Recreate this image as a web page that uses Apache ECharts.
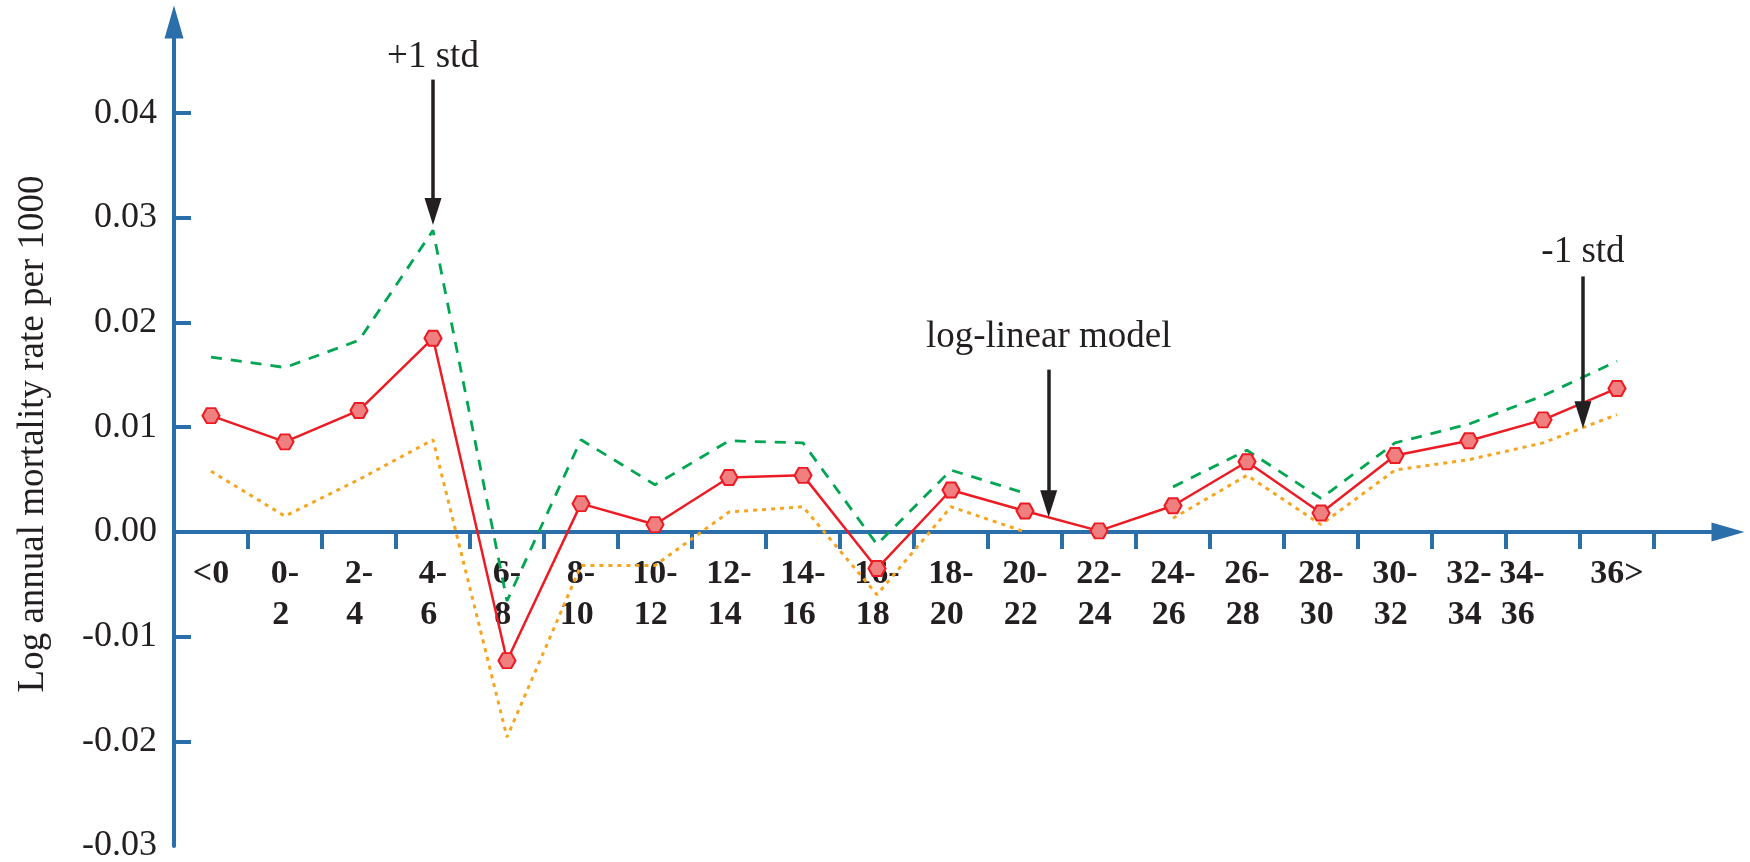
<!DOCTYPE html>
<html>
<head>
<meta charset="utf-8">
<script src="https://cdn.jsdelivr.net/npm/echarts@6/dist/echarts.min.js"></script>
<style>
  html, body { margin: 0; padding: 0; background: #ffffff; }
  #chart { width: 1750px; height: 862px; }
</style>
</head>
<body>
<div id="chart"></div>
<script>
// Age bands (years)
const categories = ['<0', '0-2', '2-4', '4-6', '6-8', '8-10', '10-12', '12-14', '14-16', '16-18',
  '18-20', '20-22', '22-24', '24-26', '26-28', '28-30', '30-32', '32-34', '34-36', '36>'];

// Log-linear model estimate
const modelRate = [0.0111, 0.0086, 0.0116, 0.0185, -0.0123, 0.0027, 0.0007, 0.0052, 0.0054, -0.0035,
  0.0040, 0.0020, 0.0001, 0.0025, 0.0067, 0.0018, 0.0073, 0.0087, 0.0107, 0.0137];

// Model + 1 standard deviation (no estimate for 22-24)
const upperStd = [0.0167, 0.0157, 0.0183, 0.0288, -0.0066, 0.0088, 0.0045, 0.0087, 0.0085, -0.0012,
  0.0059, 0.0037, null, 0.0043, 0.0078, 0.0032, 0.0085, 0.0103, 0.0130, 0.0163];

// Model - 1 standard deviation (no estimate for 22-24)
const lowerStd = [0.0058, 0.0015, 0.0050, 0.0088, -0.0196, -0.0032, -0.0032, 0.0019, 0.0024, -0.0060,
  0.0024, 0.0000, null, 0.0013, 0.0054, 0.0007, 0.0059, 0.0069, 0.0085, 0.0112];

// Y-axis tick labels and tick marks
const yLabelValues = [-0.03, -0.02, -0.01, 0, 0.01, 0.02, 0.03, 0.04];
const yTickValues = [-0.02, -0.01, 0, 0.01, 0.02, 0.03, 0.04];

// Callout arrows: x in band units, arrow from/to in rate units
const callouts = [
  { text: '+1 std', x: 3.5, from: 0.0432, to: 0.0306, gap: 4 },
  { text: 'log-linear model', x: 11.82, from: 0.0155, to: 0.0027, gap: 14 },
  { text: '-1 std', x: 19.04, from: 0.0244, to: 0.0112, gap: 6 }
];

const AXIS_BLUE = '#2a6eaa';
const INK = '#231f20';
const SERIF = '"Liberation Serif", "DejaVu Serif", "Times New Roman", serif';

const Y_MIN = -0.03;
const Y_MAX = 0.0487;
const GRID = { left: 174, right: 22, top: 22, bottom: 16 };
const CHART_H = 862;

// Each band occupies one unit on the x scale; points sit in the middle of the band
const bandEdges = categories.map((_, i) => i + 1);
const toPairs = (vals) => vals.map((v, i) => [i + 0.5, v]);

// Band-name row: one slot per band plus an empty slot under the arrow head.
// The 34-36 name is set a little to the left of its band.
const labelSlots = categories.map((name) =>
  name === '34-36' ? { value: name, textStyle: { padding: [0, 42, 0, 0] } } : name
).concat(['']);

// "a-b" is written on two lines; the trailing space keeps the lower
// line flush with the upper one when both are centred
function bandLabel(name) {
  const m = name.match(/^(\d+)-(\d+)$/);
  return m ? m[1] + '-\n' + m[2] + ' ' : name;
}

// The band-name row sits on the zero line of the rate axis
const plotH = CHART_H - GRID.top - GRID.bottom;
const zeroOffset = -plotH * (0 - Y_MIN) / (Y_MAX - Y_MIN);

const chart = echarts.init(document.getElementById('chart'), null, { renderer: 'canvas' });

chart.setOption({
  animation: false,
  backgroundColor: '#ffffff',
  grid: Object.assign({ containLabel: false, outerBoundsMode: 'none' }, GRID),
  xAxis: [
    {
      type: 'value',
      min: 0,
      max: 21,
      splitLine: { show: false },
      axisLine: {
        show: true,
        onZero: true,
        symbol: ['none', 'triangle'],
        symbolSize: [19, 33],
        lineStyle: { color: AXIS_BLUE, width: 4 }
      },
      axisTick: {
        show: true,
        inside: false,
        length: 17,
        customValues: bandEdges,
        lineStyle: { color: AXIS_BLUE, width: 4 }
      },
      axisLabel: { show: false }
    },
    {
      type: 'category',
      data: labelSlots,
      position: 'bottom',
      offset: zeroOffset,
      boundaryGap: true,
      axisLine: { show: false, onZero: false },
      axisTick: { show: false },
      splitLine: { show: false },
      axisLabel: {
        show: true,
        interval: 0,
        hideOverlap: false,
        margin: 22,
        formatter: bandLabel,
        fontFamily: SERIF,
        fontWeight: 'bold',
        fontSize: 34,
        lineHeight: 41,
        color: INK
      }
    }
  ],
  yAxis: {
    type: 'value',
    min: Y_MIN,
    max: Y_MAX,
    name: 'Log annual mortality rate per 1000',
    nameLocation: 'middle',
    nameGap: 122,
    nameTextStyle: { fontFamily: SERIF, fontSize: 37, color: INK },
    splitLine: { show: false },
    axisLine: {
      show: true,
      onZero: false,
      symbol: ['none', 'triangle'],
      symbolSize: [19, 33],
      lineStyle: { color: AXIS_BLUE, width: 4 }
    },
    axisTick: {
      show: true,
      inside: true,
      length: 17,
      customValues: yTickValues,
      lineStyle: { color: AXIS_BLUE, width: 4 }
    },
    axisLabel: {
      show: true,
      margin: 17,
      customValues: yLabelValues,
      formatter: (v) => v.toFixed(2),
      fontFamily: SERIF,
      fontSize: 36,
      color: INK
    }
  },
  series: [
    {
      name: '+1 std',
      type: 'line',
      xAxisIndex: 0,
      data: toPairs(upperStd),
      showSymbol: false,
      connectNulls: false,
      z: 2,
      lineStyle: { color: '#00a651', width: 2.8, type: [11, 9] }
    },
    {
      name: '-1 std',
      type: 'line',
      xAxisIndex: 0,
      data: toPairs(lowerStd),
      showSymbol: false,
      connectNulls: false,
      z: 2,
      lineStyle: { color: '#f7a51e', width: 3, type: [4, 5] }
    },
    {
      name: 'log-linear model',
      type: 'line',
      xAxisIndex: 0,
      data: toPairs(modelRate),
      symbol: 'path://M0,4 L2.3,0 L6.9,0 L9.2,4 L6.9,8 L2.3,8 Z',
      symbolSize: [17, 15],
      z: 4,
      lineStyle: { color: '#ed1c24', width: 2.5 },
      itemStyle: { color: '#f08080', borderColor: '#ed1c24', borderWidth: 2 }
    },
    {
      name: 'callouts',
      type: 'line',
      xAxisIndex: 0,
      data: [],
      z: 5,
      markLine: {
        silent: true,
        animation: false,
        symbol: ['none', 'triangle'],
        symbolSize: [1, 22],
        lineStyle: { color: INK, width: 3.5, type: 'solid' },
        data: callouts.map((c) => [
          {
            coord: [c.x, c.from],
            symbol: 'none',
            label: {
              show: true,
              position: 'start',
              distance: c.gap,
              formatter: c.text,
              fontFamily: SERIF,
              fontSize: 37,
              color: INK
            }
          },
          { coord: [c.x, c.to], symbol: 'triangle', symbolSize: [17, 27] }
        ])
      }
    }
  ]
});
</script>
</body>
</html>
